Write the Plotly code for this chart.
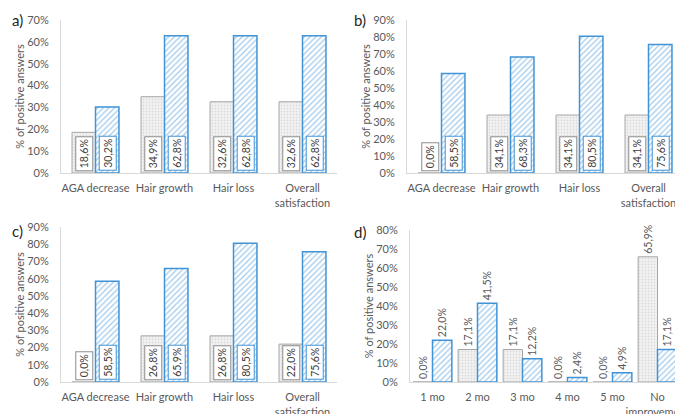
import plotly.graph_objects as go

# ---------------- data ----------------
cats_abc = ["AGA decrease", "Hair growth", "Hair loss", "Overall<br>satisfaction"]
a_grey = [18.6, 34.9, 32.6, 32.6]
a_blue = [30.2, 62.8, 62.8, 62.8]
b_grey = [0.0, 34.1, 34.1, 34.1]
b_blue = [58.5, 68.3, 80.5, 75.6]
c_grey = [0.0, 26.8, 26.8, 22.0]
c_blue = [58.5, 65.9, 80.5, 75.6]
cats_d = ["1 mo", "2 mo", "3 mo", "4 mo", "5 mo", "No<br>improvement"]
d_grey = [0.0, 17.1, 17.1, 0.0, 0.0, 65.9]
d_blue = [22.0, 41.5, 12.2, 2.4, 4.9, 17.1]
panel_letters = ["a)", "b)", "c)", "d)"]
y_title = "% of positive answers"

# ---------------- style ----------------
W, H = 675, 414
FONT = "Lato"
TXT = "#595959"
GREY_LINE = "#a6a6a6"
BLUE = "#4193d6"
AX = "#d9d9d9"


def fx(p):
    return p / W


def fy(p):
    return 1 - p / H


def lab(v):
    return f"{v:.1f}%".replace(".", ",")


fig = go.Figure()

panels = [
    # key, cats, grey, blue, xdom(px), ydom(px: bottom, top), yrange, step, barw
    ("", cats_abc, a_grey, a_blue, (61, 337), (173, 20), 70, None, 0.34),
    ("2", cats_abc, b_grey, b_blue, (407, 675), (173, 20), 90, 69, 0.34),
    ("3", cats_abc, c_grey, c_blue, (61, 337), (382, 227), 90, None, 0.34),
    ("4", cats_d, d_grey, d_blue, (410, 675), (382, 230), 80, 45, 0.43),
]

annotations = []
for k, (key, cats, grey, blue, xd, yd, ymax, step, bw) in enumerate(panels):
    xs = list(range(len(cats)))
    xa, ya = "x" + key, "y" + key
    is_d = key == "4"
    grey_kw = dict(
        x=xs, y=grey, width=[bw] * len(xs), offset=[-bw] * len(xs),
        xaxis=xa, yaxis=ya, showlegend=False, hoverinfo="skip",
        marker=dict(color="#eeeeee", line=dict(color=GREY_LINE, width=1),
                    pattern=dict(shape=".", fgcolor="#c4c4c4", bgcolor="#f3f3f3",
                                 size=3, solidity=0.3)),
    )
    blue_kw = dict(
        x=xs, y=blue, width=[bw] * len(xs), offset=[0] * len(xs),
        xaxis=xa, yaxis=ya, showlegend=False, hoverinfo="skip",
        marker=dict(color="white", line=dict(color=BLUE, width=1.5),
                    pattern=dict(shape="/", fgcolor=BLUE, bgcolor="white",
                                 size=4, solidity=0.3)),
    )
    if is_d:
        for kw, vals in ((grey_kw, grey), (blue_kw, blue)):
            kw.update(text=[lab(v) for v in vals], textposition="outside",
                      textangle=-90, constraintext="none", cliponaxis=False,
                      textfont=dict(family=FONT, size=10.5, color=TXT))
    fig.add_trace(go.Bar(**grey_kw))
    fig.add_trace(go.Bar(**blue_kw))

    if not is_d:
        for i in xs:
            for xo, v, bc in ((-bw / 2, grey[i], "#8c8c8c"), (bw / 2, blue[i], BLUE)):
                annotations.append(dict(
                    x=i + xo, y=0, xref=xa, yref=ya, text=lab(v), textangle=-90,
                    xanchor="center", yanchor="bottom", yshift=2, showarrow=False,
                    bgcolor="white", bordercolor=bc, borderwidth=1, borderpad=2,
                    font=dict(family=FONT, size=10.5, color="#404040"),
                ))

    xr = [-0.5, len(cats) - 0.5] if step is None else [-0.5, -0.5 + (xd[1] - xd[0]) / step]
    xaxis_def = dict(
        domain=[fx(xd[0]), fx(xd[1])], range=xr, anchor=ya,
        tickvals=xs, ticktext=cats, showline=True, linecolor=AX, linewidth=1,
        showgrid=False, zeroline=False, ticks="", ticklabelstandoff=5,
        ticklabeloverflow="allow", tickangle=0,
        tickfont=dict(family=FONT, size=11, color=TXT), automargin=False,
    )
    yaxis_def = dict(
        domain=[fy(yd[0]), fy(yd[1])], range=[0, ymax], anchor=xa,
        dtick=10, ticksuffix="%", showline=True, linecolor=AX, linewidth=1,
        showgrid=False, zeroline=False, ticks="", ticklabelstandoff=9,
        ticklabeloverflow="allow",
        tickfont=dict(family=FONT, size=11, color=TXT), automargin=False,
        title=dict(text=y_title, font=dict(family=FONT, size=11, color=TXT), standoff=0),
    )
    fig.update_layout({"xaxis" + key: xaxis_def, "yaxis" + key: yaxis_def})

letter_pos = [(10, 20), (352, 20), (10, 231), (352, 232)]
for t, (px, py) in zip(panel_letters, letter_pos):
    annotations.append(dict(
        x=fx(px), y=fy(py), xref="paper", yref="paper", text=t, showarrow=False,
        xanchor="left", yanchor="middle",
        font=dict(family=FONT, size=15, color="#262626"),
    ))

fig.update_layout(
    width=W, height=H, margin=dict(l=0, r=0, t=0, b=0),
    paper_bgcolor="white", plot_bgcolor="white",
    barmode="overlay", annotations=annotations,
    font=dict(family=FONT, color=TXT),
)

fig.write_html("out.html", config={"displayModeBar": False},
               post_script="document.body.style.margin='0';document.body.style.overflow='hidden';")
